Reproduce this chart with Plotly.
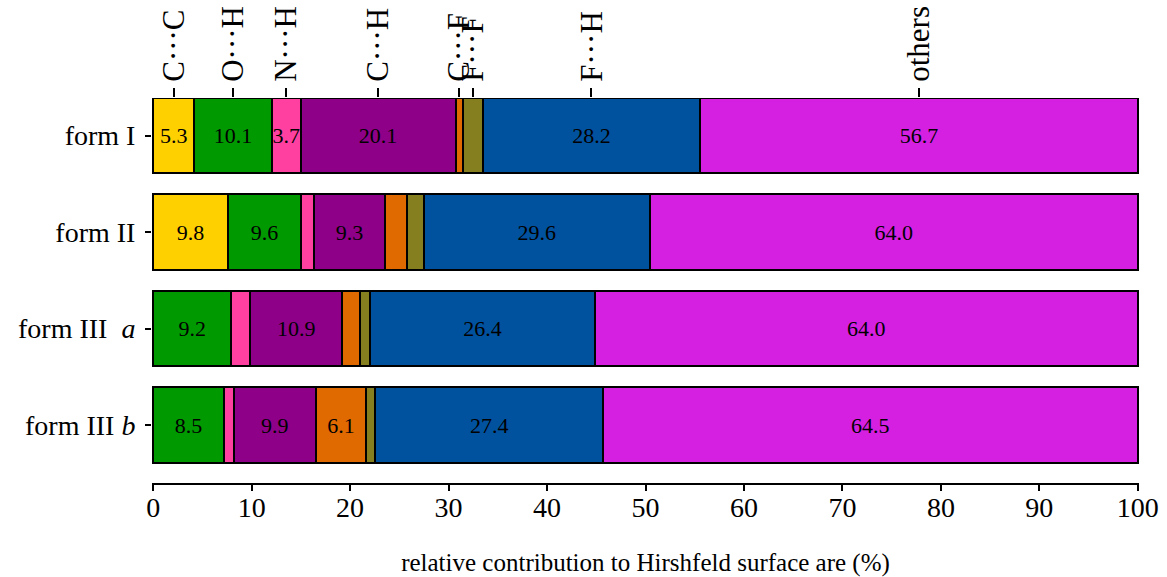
import plotly.graph_objects as go

forms = ["form I", "form II", "form III  <i>a</i>", "form III <i>b</i>"]
contacts = ["C···C", "O···H", "N···H", "C···H", "C···F", "F···F", "F···H", "others"]

cc = [5.3, 9.8, 0, 0]
oh = [10.1, 9.6, 9.2, 8.5]
nh = [3.7, 1.7, 2.2, 1.2]
ch = [20.1, 9.3, 10.9, 9.9]
cf = [0.9, 2.9, 2.1, 6.1]
ff = [2.6, 2.2, 1.2, 1.1]
fh = [28.2, 29.6, 26.4, 27.4]
others = [56.7, 64.0, 64.0, 64.5]

series = [cc, oh, nh, ch, cf, ff, fh, others]
colors = ["#FFD000", "#009A00", "#FF40A0", "#8F0088", "#E06A00", "#857F20", "#00519E", "#D520E2"]

FONT = "Liberation Serif"
ypos = [3, 2, 1, 0]
totals = [sum(s[i] for s in series) for i in range(len(forms))]

fig = go.Figure()
for name, vals, col in zip(contacts, series, colors):
    widths = [v / t * 100 if v else None for v, t in zip(vals, totals)]
    texts = [f"{v:.1f}" if v >= 3 else "" for v in vals]
    fig.add_trace(go.Bar(
        x=widths, y=ypos, orientation="h", name=name,
        marker=dict(color=col, line=dict(color="black", width=2)),
        width=0.78, text=texts, textposition="inside", insidetextanchor="middle",
        textangle=0, constraintext="none",
        textfont=dict(family=FONT, size=22, color="black"),
        showlegend=False, hoverinfo="skip",
    ))

# top axis ticks at centres of form I segments
cum = 0
top_ticks = []
for vals in series:
    w = vals[0] / totals[0] * 100
    top_ticks.append(cum + w / 2)
    cum += w

fig.add_trace(go.Scatter(x=top_ticks, y=[3] * len(top_ticks), xaxis="x2", mode="markers",
                         marker=dict(opacity=0), showlegend=False, hoverinfo="skip"))

XR = [-0.12, 100.12]
fig.update_layout(
    barmode="stack",
    width=1167, height=577,
    margin=dict(l=152, r=28, t=98, b=94, autoexpand=False),
    paper_bgcolor="white", plot_bgcolor="white",
    font=dict(family=FONT, color="black"),
    xaxis=dict(range=XR, dtick=10, tick0=0, showgrid=False, zeroline=False, automargin=False,
               showline=True, linecolor="black", linewidth=2,
               ticks="outside", ticklen=6, tickwidth=2, tickcolor="black",
               tickfont=dict(size=28), ticklabelstandoff=-8,
               title=dict(text="relative contribution to Hirshfeld surface are (%)",
                          font=dict(size=25), standoff=34)),
    xaxis2=dict(range=XR, overlaying="x", side="top", showgrid=False, zeroline=False,
                automargin=False,
                showline=False, tickmode="array", tickvals=top_ticks, ticktext=contacts,
                tickangle=-90, ticks="outside", ticklen=9, tickwidth=2, tickcolor="black",
                tickfont=dict(size=31)),
    yaxis=dict(range=[-0.6, 3.39], tickmode="array", tickvals=ypos, ticktext=forms,
               showgrid=False, zeroline=False, showline=False, automargin=False,
               ticks="outside", ticklen=6, tickwidth=2, tickcolor="black",
               tickfont=dict(size=28), ticklabelstandoff=4),
)

fig.write_html("out.html")
